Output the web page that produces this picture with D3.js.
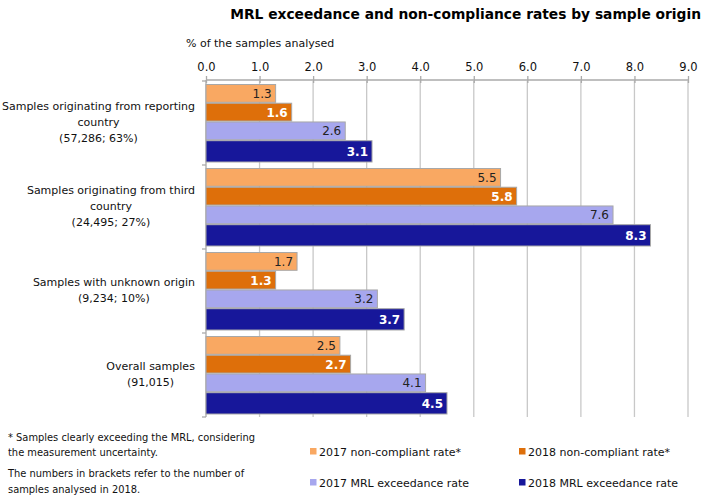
<!DOCTYPE html>
<html><head><meta charset="utf-8">
<script src="https://cdn.jsdelivr.net/npm/d3@7"></script>
<style>body{margin:0;background:#fff}svg{display:block}text{font-family:"DejaVu Sans",Verdana,sans-serif}</style>
</head><body><svg id="c" width="709" height="498"></svg>
<script>
const categories = [
  ["Samples originating from reporting","country","(57,286; 63%)"],
  ["Samples originating from third","country","(24,495; 27%)"],
  ["Samples with unknown origin","(9,234; 10%)"],
  ["Overall samples","(91,015)"]
];
const seriesNames = ["2017 non-compliant rate*","2018 non-compliant rate*","2017 MRL exceedance rate","2018 MRL exceedance rate"];
const nc2017 = [1.3, 5.5, 1.7, 2.5];
const nc2018 = [1.6, 5.8, 1.3, 2.7];
const mrl2017 = [2.6, 7.6, 3.2, 4.1];
const mrl2018 = [3.1, 8.3, 3.7, 4.5];
const tickValues = [0,1,2,3,4,5,6,7,8,9];
const colors = ["#F9A862","#DE6F0A","#A7A7EE","#17179A"];
const textColors = ["#222","#fff","#222","#fff"];
const textWeights = ["normal","bold","normal","bold"];

const series = [nc2017, nc2018, mrl2017, mrl2018];
const svg = d3.select("#c");
const L = 206, R = 688, T = 81, B = 417;
const x = d3.scaleLinear().domain([0,9]).range([L,R]);
const y = d3.scaleBand().domain(d3.range(categories.length)).range([T,B]);
const yi = d3.scaleBand().domain(d3.range(4)).range([3.5, 77.5]).paddingInner(0.05);

svg.append("text").attr("x",701).attr("y",19).attr("text-anchor","end")
  .style("font-weight","bold").style("font-size","13.8px").text("MRL exceedance and non-compliance rates by sample origin");
svg.append("text").attr("x",186).attr("y",47).style("font-size","11px").attr("fill","#111").text("% of the samples analysed");

// gridlines
svg.append("g").selectAll("line").data(tickValues.slice(1)).join("line")
  .attr("x1",d=>x(d)).attr("x2",d=>x(d)).attr("y1",T).attr("y2",B)
  .attr("stroke","#c8c8c8").attr("stroke-width",1.3);

// top axis
const ax = svg.append("g").attr("transform",`translate(0,${T-1})`)
  .call(d3.axisTop(x).tickValues(tickValues).tickFormat(d3.format(".1f")).tickSize(4).tickPadding(5));
ax.select(".domain").attr("stroke","#aaa").attr("stroke-width",1.3).attr("d",`M${L},0H${R}`);
ax.selectAll(".tick line").attr("stroke","#aaa").attr("stroke-width",1.3).attr("y1",3).attr("y2",-4);
ax.selectAll(".tick text").style("font-size","11.5px").attr("fill","#111").style("font-family","DejaVu Sans, sans-serif");

// left axis
svg.append("line").attr("x1",L).attr("x2",L).attr("y1",T-1).attr("y2",B).attr("stroke","#aaa").attr("stroke-width",1.3);
svg.append("g").selectAll("line").data(d3.range(categories.length+1)).join("line")
  .attr("x1",L-4).attr("x2",L).attr("y1",d=>T+d*y.step()).attr("y2",d=>T+d*y.step())
  .attr("stroke","#aaa").attr("stroke-width",1.3);

// bars
const g = svg.append("g");
categories.forEach((c,ci)=>{
  series.forEach((s,si)=>{
    const by = y(ci)+yi(si), bh = yi.bandwidth() + (si===3?3.5:0);
    g.append("rect").attr("x",x(0)).attr("y",by).attr("width",x(s[ci])-x(0)).attr("height",bh)
      .attr("fill",colors[si]).attr("stroke","#a8a8a8").attr("stroke-width",1);
    g.append("text").attr("x",x(s[ci])-4).attr("y",by+bh/2+4.5).attr("text-anchor","end")
      .style("font-size","12px").style("font-weight",textWeights[si]).attr("fill",textColors[si])
      .text(d3.format(".1f")(s[ci]));
  });
  // category label
  const lines = categories[ci];
  const lh = 16;
  const t = svg.append("text").attr("text-anchor","middle").style("font-size","11px").attr("fill","#111");
  const cy = y(ci)+y.bandwidth()/2 - 1;
  lines.forEach((ln,li)=>{
    t.append("tspan").attr("x",0).attr("y",cy + (li-(lines.length-1)/2)*lh + 4).text(ln);
  });
  const w = t.node().getBBox().width;
  t.attr("transform",`translate(${195 - w/2},0)`);
});

// footnotes
const notes = [["* Samples clearly exceeding the MRL, considering",441],["the measurement uncertainty.",456],["The numbers in brackets refer to the number of",477],["samples analysed in 2018.",493]];
svg.append("g").selectAll("text").data(notes).join("text").attr("x",8).attr("y",d=>d[1])
  .style("font-size","9.9px").attr("fill","#111").text(d=>d[0]);

// legend
const lpos = [[310,456],[519,456],[310,487],[519,487]];
const lg = svg.append("g");
seriesNames.forEach((n,i)=>{
  lg.append("rect").attr("x",lpos[i][0]).attr("y",lpos[i][1]-8).attr("width",6.5).attr("height",6.5).attr("fill",colors[i]);
  lg.append("text").attr("x",lpos[i][0]+9).attr("y",lpos[i][1]).style("font-size","11px").attr("fill","#111").text(n);
});
</script></body></html>
